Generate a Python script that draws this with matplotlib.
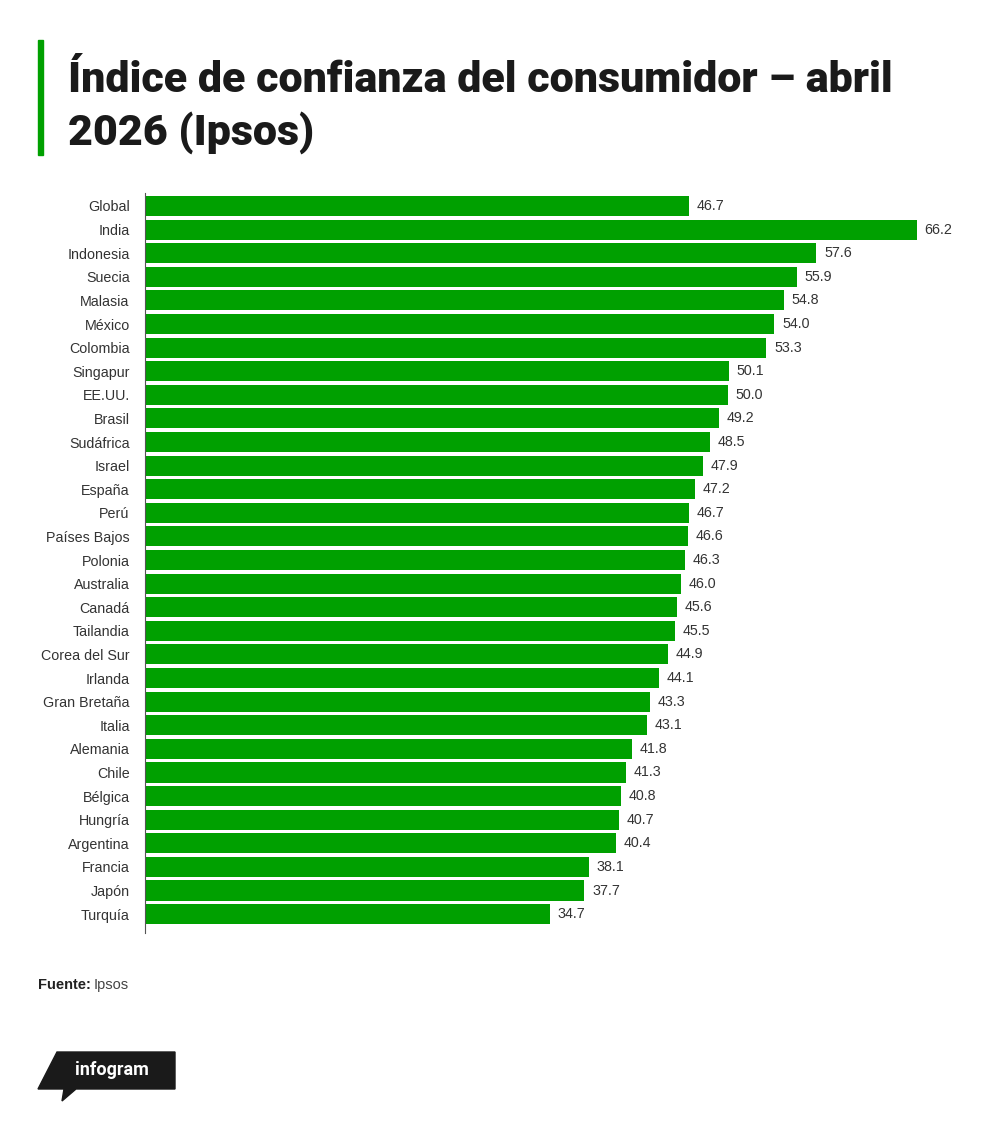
import matplotlib
matplotlib.use("Agg")
import matplotlib.pyplot as plt
from matplotlib.patches import Polygon, Rectangle

countries = ["Global", "India", "Indonesia", "Suecia", "Malasia", "México", "Colombia",
             "Singapur", "EE.UU.", "Brasil", "Sudáfrica", "Israel", "España", "Perú",
             "Países Bajos", "Polonia", "Australia", "Canadá", "Tailandia", "Corea del Sur",
             "Irlanda", "Gran Bretaña", "Italia", "Alemania", "Chile", "Bélgica", "Hungría",
             "Argentina", "Francia", "Japón", "Turquía"]
values = [46.7, 66.2, 57.6, 55.9, 54.8, 54.0, 53.3, 50.1, 50.0, 49.2, 48.5, 47.9, 47.2,
          46.7, 46.6, 46.3, 46.0, 45.6, 45.5, 44.9, 44.1, 43.3, 43.1, 41.8, 41.3, 40.8,
          40.7, 40.4, 38.1, 37.7, 34.7]

green = "#00a000"
W, H = 1000, 1121

fig = plt.figure(figsize=(10, 11.21), dpi=100)
fig.patch.set_facecolor("white")

# main chart area
ax = fig.add_axes([145 / W, 1 - 933 / H, (961 - 145) / W, (933 - 193) / H])
ypos = list(range(len(countries)))
ax.barh(ypos, values, height=0.85, color=green, edgecolor="none")
ax.set_xlim(0, 70)
ax.set_ylim(len(countries) - 0.2, -0.55)
ax.set_yticks(ypos)
ax.set_yticklabels(countries, fontsize=10.3, color="#333333", family="Liberation Sans")
ax.tick_params(axis="y", length=0, pad=11)
ax.set_xticks([])
for s in ["top", "right", "bottom"]:
    ax.spines[s].set_visible(False)
ax.spines["left"].set_color("#555555")
ax.spines["left"].set_linewidth(0.8)

for y, v in zip(ypos, values):
    ax.annotate(f"{v:.1f}", (v, y), xytext=(5.5, 0), textcoords="offset points",
                va="center", ha="left", fontsize=10.3, color="#333333",
                family="Liberation Sans")

# title with green accent
fig.patches.append(Rectangle((38 / W, 1 - 155 / H), 5 / W, 115 / H,
                             transform=fig.transFigure, color=green))
for txt, yb in [("Índice de confianza del consumidor – abril", 92), ("2026 (Ipsos)", 145)]:
    fig.text(68 / W, 1 - yb / H, txt, fontsize=31, fontweight="heavy", family="Roboto",
             color="#1a1a1a", va="baseline", ha="left")

# source
fig.text(38 / W, 1 - 989 / H, "Fuente:", fontsize=10.5, fontweight="bold",
         family="Liberation Sans", color="#222222", va="baseline")
fig.text(94 / W, 1 - 989 / H, "Ipsos", fontsize=10.5, family="Liberation Sans",
         color="#444444", va="baseline")

# infogram logo
logo = [(38, 1089), (57, 1052), (175, 1052), (175, 1089), (76, 1089), (62, 1101), (64, 1089)]
fig.patches.append(Polygon([(x / W, 1 - y / H) for x, y in logo], closed=True,
                           transform=fig.transFigure, color="#1a1a1a"))
fig.text(112 / W, 1 - 1070 / H, "infogram", fontsize=13, fontweight="bold",
         family="Roboto", color="white", ha="center", va="center")

fig.savefig("out.png", dpi=100, facecolor="white")
